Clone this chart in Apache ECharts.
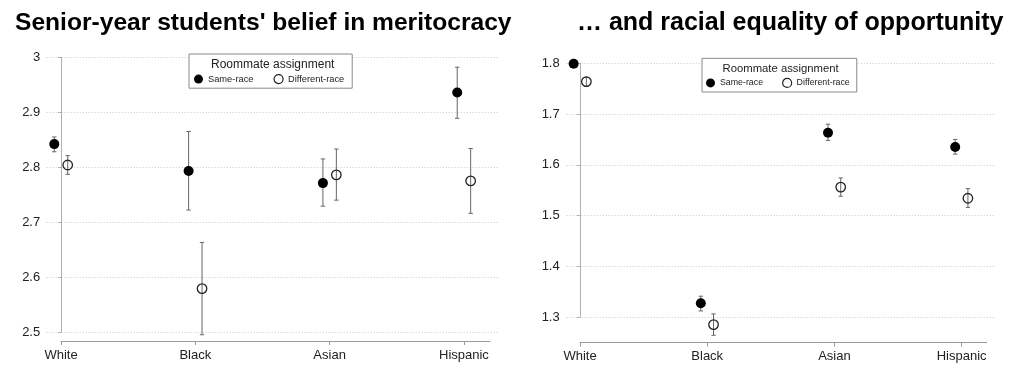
<!DOCTYPE html>
<html>
<head>
<meta charset="utf-8">
<script src="https://cdn.jsdelivr.net/npm/echarts@6/dist/echarts.min.js"></script>
<style>
html,body{margin:0;padding:0;background:#fff;}
#chart{width:1024px;height:375px;}
</style>
</head>
<body>
<div id="chart"></div>
<script>
// ---- data ----
var categories = ['White', 'Black', 'Asian', 'Hispanic'];
var legendNames = ['Same-race', 'Different-race'];
var titleLeft = "Senior-year students' belief in meritocracy";
var titleRight = "\u2026 and racial equality of opportunity";
var legendTitle = 'Roommate assignment';

var meritSame   = [2.842, 2.793, 2.771, 2.936];
var meritSameLo = [2.828, 2.722, 2.729, 2.889];
var meritSameHi = [2.855, 2.865, 2.815, 2.982];
var meritDiff   = [2.804, 2.579, 2.786, 2.775];
var meritDiffLo = [2.787, 2.495, 2.740, 2.716];
var meritDiffHi = [2.821, 2.663, 2.833, 2.834];

var equalSame   = [1.799, 1.327, 1.663, 1.635];
var equalSameLo = [1.795, 1.312, 1.648, 1.621];
var equalSameHi = [1.803, 1.341, 1.680, 1.650];
var equalDiff   = [1.764, 1.285, 1.556, 1.534];
var equalDiffLo = [1.755, 1.264, 1.538, 1.516];
var equalDiffHi = [1.772, 1.306, 1.574, 1.553];

var meritTicks = [2.5, 3.0, 0.1];  // min, max, interval
var equalTicks = [1.3, 1.8, 0.1];

// ---- build ----
var FONT = "'Liberation Sans', Arial, sans-serif";
var DODGE = 0.05;
var catIdx = categories.map(function (c, i) { return i; });

function pts(vals, off) { return vals.map(function (v, i) { return [i + off, v]; }); }
function bars(lo, hi, off) { return lo.map(function (v, i) { return [i + off, v, hi[i]]; }); }

function errRender(params, api) {
  var x = api.value(0);
  var a = api.coord([x, api.value(1)]);
  var b = api.coord([x, api.value(2)]);
  var hw = 2.2;
  var st = { stroke: '#666', lineWidth: 1 };
  return {
    type: 'group',
    children: [
      { type: 'line', shape: { x1: a[0], y1: a[1], x2: b[0], y2: b[1] }, style: st },
      { type: 'line', shape: { x1: a[0] - hw, y1: a[1], x2: a[0] + hw, y2: a[1] }, style: st },
      { type: 'line', shape: { x1: b[0] - hw, y1: b[1], x2: b[0] + hw, y2: b[1] }, style: st }
    ]
  };
}

function errSeries(xi, yi, lo, hi, off) {
  return {
    type: 'custom', xAxisIndex: xi, yAxisIndex: yi, clip: false, z: 2,
    renderItem: errRender, encode: { x: 0, y: [1, 2] },
    data: bars(lo, hi, off), silent: true
  };
}
function sameSeries(xi, yi, vals) {
  return {
    name: legendNames[0], type: 'scatter', xAxisIndex: xi, yAxisIndex: yi, clip: false, z: 3,
    symbol: 'circle', symbolSize: 10, itemStyle: { color: '#000', opacity: 1 },
    data: pts(vals, -DODGE)
  };
}
function diffSeries(xi, yi, vals) {
  return {
    name: legendNames[1], type: 'scatter', xAxisIndex: xi, yAxisIndex: yi, clip: false, z: 3,
    symbol: 'circle', symbolSize: 9.5,
    itemStyle: { color: 'rgba(255,255,255,0)', borderColor: '#222', borderWidth: 1.3, opacity: 1 },
    data: pts(vals, DODGE)
  };
}

function mainX(gi, min, max) {
  return { type: 'value', gridIndex: gi, min: min, max: max, show: false };
}
function catX(gi, max, margin) {
  return {
    type: 'value', gridIndex: gi, min: 0, max: max, position: 'bottom',
    axisLine: { show: true, lineStyle: { color: '#9a9a9a', width: 1 } },
    axisTick: { show: true, length: 4, customValues: catIdx, lineStyle: { color: '#9a9a9a' } },
    axisLabel: {
      customValues: catIdx, margin: margin, fontSize: 13, color: '#222', fontFamily: FONT,
      formatter: function (v) { return categories[Math.round(v)]; }
    },
    splitLine: { show: false }
  };
}
function mainY(gi, t, margin) {
  return {
    type: 'value', gridIndex: gi, min: t[0], max: t[1], interval: t[2],
    axisLine: { show: true, lineStyle: { color: '#b0b0b0', width: 1 } },
    axisTick: { show: true, length: 3, lineStyle: { color: '#b0b0b0' } },
    axisLabel: { margin: margin, fontSize: 13, color: '#222', fontFamily: FONT },
    splitLine: { show: true, lineStyle: { color: '#c8c8c8', type: [1, 2], width: 1 } }
  };
}
function hiddenY(gi) { return { type: 'value', gridIndex: gi, show: false, min: 0, max: 1 }; }

function legendFor(left, top, fs, pad, gap) {
  return {
    left: left, top: top, orient: 'horizontal',
    padding: pad, itemGap: gap, itemWidth: 9, itemHeight: 9, itemTextGap: 4,
    borderColor: '#8a8a8a', borderWidth: 1, backgroundColor: '#fff',
    selectedMode: false,
    textStyle: { fontSize: fs, color: '#222', fontFamily: FONT },
    data: [
      { name: legendNames[0], icon: 'circle', itemStyle: { color: '#000', opacity: 1 } },
      { name: legendNames[1], icon: 'circle', itemStyle: { color: '#fff', borderColor: '#222', borderWidth: 1.2, opacity: 1 } }
    ]
  };
}

var option = {
  backgroundColor: '#fff',
  animation: false,
  title: [
    { text: titleLeft, left: 15, top: 11, padding: 0,
      textStyle: { fontSize: 24.6, fontWeight: 'bold', color: '#000', fontFamily: FONT } },
    { text: titleRight, left: 577, top: 11, padding: 0,
      textStyle: { fontSize: 25, fontWeight: 'bold', color: '#000', fontFamily: FONT } },
    { text: legendTitle, left: 211, top: 58.5, padding: 0, z: 10,
      textStyle: { fontSize: 12, fontWeight: 'normal', color: '#222', fontFamily: FONT } },
    { text: legendTitle, left: 722.5, top: 63, padding: 0, z: 10,
      textStyle: { fontSize: 11.3, fontWeight: 'normal', color: '#222', fontFamily: FONT } }
  ],
  legend: [
    legendFor(189, 54, 9.3, [20, 8, 4, 5], 20),
    legendFor(702, 58.3, 8.8, [19.5, 7, 4, 4], 19)
  ],
  grid: [
    { left: 46.7, top: 57.3, width: 452.3, height: 274.7 },
    { left: 61, top: 330, width: 429, height: 11 },
    { left: 566.7, top: 63.3, width: 428.3, height: 253.7 },
    { left: 580, top: 332, width: 406.7, height: 10.7 }
  ],
  xAxis: [
    mainX(0, -0.1065, 3.261),
    catX(1, 3.194, 8),
    mainX(2, -0.1046, 3.263),
    catX(3, 3.197, 7.5)
  ],
  yAxis: [
    mainY(0, meritTicks, 6.5),
    hiddenY(1),
    mainY(2, equalTicks, 7),
    hiddenY(3)
  ],
  series: [
    errSeries(0, 0, meritSameLo, meritSameHi, -DODGE),
    errSeries(0, 0, meritDiffLo, meritDiffHi, DODGE),
    sameSeries(0, 0, meritSame),
    diffSeries(0, 0, meritDiff),
    errSeries(2, 2, equalSameLo, equalSameHi, -DODGE),
    errSeries(2, 2, equalDiffLo, equalDiffHi, DODGE),
    sameSeries(2, 2, equalSame),
    diffSeries(2, 2, equalDiff)
  ]
};

var chart = echarts.init(document.getElementById('chart'), null, { renderer: 'canvas' });
chart.setOption(option);
</script>
</body>
</html>
